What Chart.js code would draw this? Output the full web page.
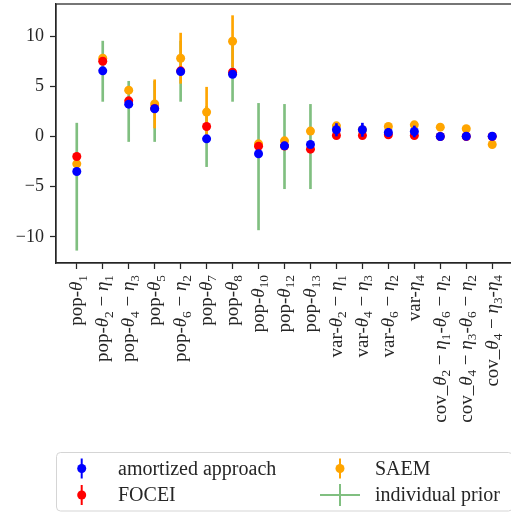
<!DOCTYPE html>
<html>
<head>
<meta charset="utf-8">
<script src="https://cdn.jsdelivr.net/npm/chart.js@4.4.1/dist/chart.umd.min.js"></script>
<style>
  html, body { margin: 0; padding: 0; background: #fff; overflow: hidden; }
  #wrap { width: 513px; height: 514px; }
</style>
</head>
<body>
<div id="wrap"><canvas id="c" width="513" height="514"></canvas></div>
<script>
// Parameter names; "_{..}" marks a subscript, Greek letters are set in italic.
const categories = [
  'pop-θ_{1}', 'pop-θ_{2} − η_{1}', 'pop-θ_{4} − η_{3}', 'pop-θ_{5}', 'pop-θ_{6} − η_{2}',
  'pop-θ_{7}', 'pop-θ_{8}', 'pop-θ_{10}', 'pop-θ_{12}', 'pop-θ_{13}',
  'var-θ_{2} − η_{1}', 'var-θ_{4} − η_{3}', 'var-θ_{6} − η_{2}', 'var-η_{4}',
  'cov_θ_{2} − η_{1}-θ_{6} − η_{2}', 'cov_θ_{4} − η_{3}-θ_{6} − η_{2}', 'cov_θ_{4} − η_{3}-η_{4}'
];
const yTicks = [-10, -5, 0, 5, 10];

// Estimates and their error half-widths per parameter
const amortized    = [-3.48, 6.54, 3.22, 2.76, 6.47, -0.23, 6.2, -1.72, -0.93, -0.8, 0.67, 0.67, 0.4, 0.5, 0.0, 0.03, 0.03];
const amortizedErr = [0, 0, 0, 0, 0, 0, 0, 0, 0, 0, 0.62, 0.66, 0.42, 0.55, 0, 0, 0];
const focei        = [-1.99, 7.5, 3.55, 2.8, 6.54, 1.0, 6.4, -0.96, -0.95, -1.26, 0.1, 0.1, 0.17, 0.1, 0.0, 0.0, 0.0];
const foceiErr     = [0, 0, 0, 0, 0, 0, 0, 0, 0, 0, 0, 0, 0, 0, 0, 0, 0];
const saem         = [-2.72, 7.8, 4.62, 3.25, 7.8, 2.43, 9.49, -0.73, -0.43, 0.54, 1.06, 0.67, 1.0, 1.16, 0.93, 0.77, -0.8];
const saemErr      = [0, 0, 0, 2.4, 2.5, 2.48, 2.55, 0, 0, 0, 0, 0, 0, 0, 0, 0, 0];
// Individual prior: mean and half-width of the interval
const priorMean    = [-5.0, 6.5, 2.5, 2.5, 6.5, 0.0, 6.5, -3.0, -1.0, -1.0, null, null, null, null, null, null, null];
const priorHalf    = [6.33, 3.0, 3.0, 3.0, 3.0, 3.0, 3.0, 6.3, 4.2, 4.2, null, null, null, null, null, null, null];

const BLUE = '#0000ff', RED = '#ff0000', ORANGE = '#ffa500', GREEN = '#80bf80';
const INK = '#262626';
const FONT = '"Liberation Serif", "DejaVu Serif", serif';

const points = vals => vals.map((v, i) => ({ x: i, y: v }));
const intervals = (center, half) => center
  .map((c, i) => (c != null && half[i]) ? { x: i, y: [c - half[i], c + half[i]] } : null)
  .filter(Boolean);

const dot = (label, vals, color) => ({
  type: 'scatter', label, data: points(vals),
  backgroundColor: color, borderColor: color, borderWidth: 0,
  pointRadius: 4.5, pointHoverRadius: 4.5
});
const bar = (label, data, color) => ({
  type: 'bar', label, data, backgroundColor: color, borderWidth: 0,
  barThickness: 2, grouped: false
});

// Rich label: roman text, italic Greek letters, smaller lowered subscripts
function parseRich(s) {
  const segs = []; let buf = ''; let i = 0;
  const flush = () => { if (buf) { segs.push({ t: buf, k: 'rm' }); buf = ''; } };
  while (i < s.length) {
    if (s.startsWith('_{', i)) {
      flush();
      const j = s.indexOf('}', i);
      segs.push({ t: s.slice(i + 2, j), k: 'sub' });
      i = j + 1; continue;
    }
    const ch = s[i];
    if (ch === 'θ' || ch === 'η') { flush(); segs.push({ t: ch, k: 'it' }); i++; continue; }
    buf += ch; i++;
  }
  flush();
  return segs;
}
function segFont(k, fs) {
  if (k === 'it') return `italic ${fs}px ${FONT}`;
  if (k === 'sub') return `${(fs * 0.7).toFixed(1)}px ${FONT}`;
  return `${fs}px ${FONT}`;
}

const X_FS = 19;
const xLabelPlugin = {
  id: 'xLabels',
  afterDraw(chart) {
    const { ctx, scales: { x }, chartArea } = chart;
    ctx.save();
    ctx.fillStyle = INK;
    ctx.textBaseline = 'alphabetic';
    ctx.textAlign = 'left';
    categories.forEach((lab, i) => {
      const px = x.getPixelForValue(i);
      const segs = parseRich(lab);
      let total = 0;
      segs.forEach(s => { ctx.font = segFont(s.k, X_FS); s.w = ctx.measureText(s.t).width; total += s.w; });
      ctx.save();
      ctx.translate(px, chartArea.bottom + 12);
      ctx.rotate(-Math.PI / 2);
      let cx = -total;
      const base = 0.3 * X_FS;
      segs.forEach(s => {
        ctx.font = segFont(s.k, X_FS);
        ctx.fillText(s.t, cx, base + (s.k === 'sub' ? 0.22 * X_FS : 0));
        cx += s.w;
      });
      ctx.restore();
    });
    ctx.restore();
  }
};

const framePlugin = {
  id: 'frame',
  afterDatasetsDraw(chart) {
    const { ctx, chartArea: a } = chart;
    ctx.save();
    ctx.strokeStyle = INK;
    ctx.lineWidth = 1.25;
    ctx.strokeRect(a.left, a.top, a.right - a.left, a.bottom - a.top);
    ctx.restore();
  }
};

const legendEntries = [
  { label: 'amortized approach', color: BLUE,   kind: 'err',  col: 0, row: 0 },
  { label: 'FOCEI',              color: RED,    kind: 'err',  col: 0, row: 1 },
  { label: 'SAEM',               color: ORANGE, kind: 'err',  col: 1, row: 0 },
  { label: 'individual prior',   color: GREEN,  kind: 'line', col: 1, row: 1 }
];
const legendPlugin = {
  id: 'boxLegend',
  afterDraw(chart) {
    const { ctx } = chart;
    const box = { x: 56.5, y: 452.5, w: 456, h: 58.5 };
    const colMarker = [81.7, 340], colText = [118, 375], rowY = [468.5, 495];
    ctx.save();
    ctx.beginPath();
    ctx.roundRect(box.x, box.y, box.w, box.h, 4);
    ctx.fillStyle = 'rgba(255,255,255,0.8)';
    ctx.fill();
    ctx.strokeStyle = '#d5d5d5';
    ctx.lineWidth = 1;
    ctx.stroke();
    legendEntries.forEach(e => {
      const mx = colMarker[e.col], my = rowY[e.row];
      ctx.strokeStyle = e.color;
      ctx.lineWidth = 2;
      ctx.beginPath();
      if (e.kind === 'err') {
        ctx.moveTo(mx, my - 10); ctx.lineTo(mx, my + 10);
        ctx.stroke();
        ctx.beginPath();
        ctx.arc(mx, my, 4.5, 0, Math.PI * 2);
        ctx.fillStyle = e.color;
        ctx.fill();
      } else {
        ctx.moveTo(mx - 20, my); ctx.lineTo(mx + 20, my);
        ctx.moveTo(mx, my - 11); ctx.lineTo(mx, my + 11);
        ctx.stroke();
      }
      ctx.fillStyle = INK;
      ctx.font = `20px ${FONT}`;
      ctx.textBaseline = 'middle';
      ctx.textAlign = 'left';
      ctx.fillText(e.label, colText[e.col], my + 1);
    });
    ctx.restore();
  }
};

const axisStyle = {
  grid: { display: true, drawOnChartArea: false, drawTicks: true, tickLength: 6, tickWidth: 1.25, tickColor: INK, offset: false },
  border: { display: true, color: INK, width: 1.25 }
};
const noPad = s => { s.paddingTop = 0; s.paddingBottom = 0; s.paddingLeft = 0; s.paddingRight = 0; };

new Chart(document.getElementById('c'), {
  type: 'bar',
  data: {
    datasets: [
      dot('amortized approach', amortized, BLUE),
      bar('amortized approach interval', intervals(amortized, amortizedErr), BLUE),
      dot('FOCEI', focei, RED),
      bar('FOCEI interval', intervals(focei, foceiErr), RED),
      dot('SAEM', saem, ORANGE),
      bar('SAEM interval', intervals(saem, saemErr), ORANGE),
      bar('individual prior', intervals(priorMean, priorHalf), GREEN)
    ]
  },
  options: {
    responsive: false,
    animation: false,
    events: [],
    layout: { autoPadding: false, padding: { top: 4, left: 0, right: 0, bottom: 0 } },
    plugins: { legend: { display: false }, tooltip: { enabled: false } },
    scales: {
      x: {
        type: 'linear', min: -0.8, max: 16.8, offset: false,
        afterBuildTicks: s => { s.ticks = categories.map((_, i) => ({ value: i })); },
        afterFit: s => { s.height = 251; noPad(s); },
        ticks: { display: false },
        ...axisStyle
      },
      y: {
        type: 'linear', min: -12.6, max: 13.2,
        afterBuildTicks: s => { s.ticks = yTicks.map(v => ({ value: v })); },
        afterFit: s => { s.width = 56; noPad(s); },
        ticks: {
          callback: v => v < 0 ? '\u2212' + Math.abs(v) : String(v),
          font: { family: FONT, size: 18 }, color: INK, padding: 6
        },
        ...axisStyle
      }
    }
  },
  plugins: [framePlugin, xLabelPlugin, legendPlugin]
});
</script>
</body>
</html>
